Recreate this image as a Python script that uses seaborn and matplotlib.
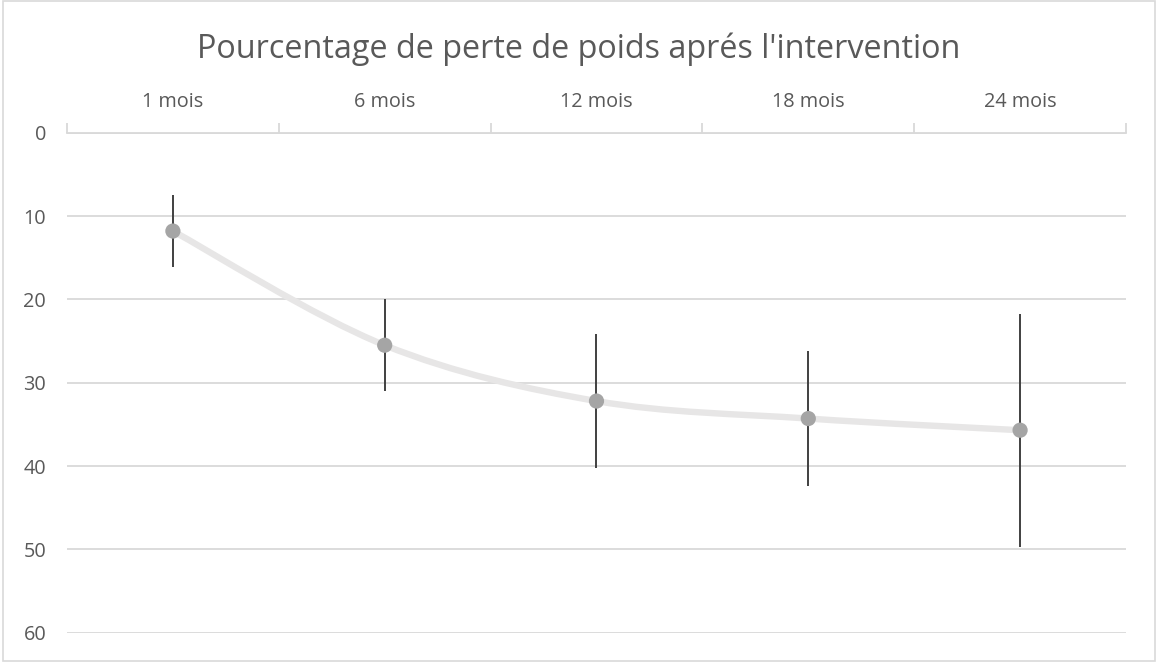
import numpy as np
import matplotlib
matplotlib.use("Agg")
import matplotlib.pyplot as plt
from matplotlib.path import Path
from matplotlib.patches import PathPatch, Rectangle
import pandas as pd
import seaborn as sns

# data
periods = ["1 mois", "6 mois", "12 mois", "18 mois", "24 mois"]
perte_moy = [11.8, 25.5, 32.2, 34.3, 35.7]
perte_err = [4.3, 5.55, 8.05, 8.1, 14.0]
y_ticks = [0, 10, 20, 30, 40, 50, 60]

txt_col = "#595959"
grid_col = "#D9D9D9"

sns.set_theme(style="white")
plt.rcParams["font.family"] = ["Open Sans", "DejaVu Sans"]

fig = plt.figure(figsize=(11.57, 6.63), dpi=100)
ax = fig.add_axes([0.0579, 0.0457, 0.9153, 0.7541])

df = pd.DataFrame({"x": np.arange(len(periods)), "y": perte_moy, "err": perte_err})

# smoothed line (catmull-rom style bezier through the points, like excel)
pts = df[["x", "y"]].to_numpy(dtype=float)
verts = [pts[0]]
codes = [Path.MOVETO]
for i in range(len(pts) - 1):
    p0 = pts[i - 1] if i > 0 else pts[i]
    p1 = pts[i]
    p2 = pts[i + 1]
    p3 = pts[i + 2] if i + 2 < len(pts) else pts[i + 1]
    c1 = p1 + (p2 - p0) / 6.0
    c2 = p2 - (p3 - p1) / 6.0
    verts += [c1, c2, p2]
    codes += [Path.CURVE4] * 3
ax.add_patch(PathPatch(Path(verts, codes), facecolor="none", edgecolor="#E7E6E6",
                       lw=4.6, capstyle="round", zorder=2))

# error bars
ax.errorbar(df["x"], df["y"], yerr=df["err"], fmt="none", ecolor="#404040",
            elinewidth=1.4, capsize=0, zorder=3)

sns.scatterplot(data=df, x="x", y="y", ax=ax, s=120, color="#A5A5A5",
                edgecolor="none", zorder=4, legend=False)

# axes
ax.set_xlim(-0.5, len(periods) - 0.5)
ax.set_ylim(60, 0)
ax.set_yticks(y_ticks)
ax.set_yticklabels([str(v) for v in y_ticks])
ax.yaxis.grid(True, color=grid_col, lw=1.3)
ax.set_axisbelow(True)

ax.xaxis.tick_top()
ax.set_xticks(df["x"])
ax.set_xticklabels(periods)
ax.set_xticks(np.arange(len(periods) + 1) - 0.5, minor=True)
ax.tick_params(axis="x", which="major", length=0, pad=15, labelsize=14.3, labelcolor=txt_col)
ax.tick_params(axis="x", which="minor", length=7, width=1.3, color=grid_col, top=True, bottom=False)
ax.tick_params(axis="y", length=0, pad=15, labelsize=14.3, labelcolor=txt_col)
ax.set_xlabel("")
ax.set_ylabel("")

for side in ["left", "right", "bottom"]:
    ax.spines[side].set_visible(False)
ax.spines["top"].set_color(grid_col)
ax.spines["top"].set_linewidth(1.3)

fig.text(0.5, 0.925, "Pourcentage de perte de poids aprés l'intervention",
         ha="center", va="center", fontsize=23.3, color=txt_col)

fig.patches.append(Rectangle((0.003, 0.003), 0.995, 0.995, transform=fig.transFigure,
                             fill=False, edgecolor=grid_col, lw=1.2))

fig.savefig("out.png", dpi=100)
